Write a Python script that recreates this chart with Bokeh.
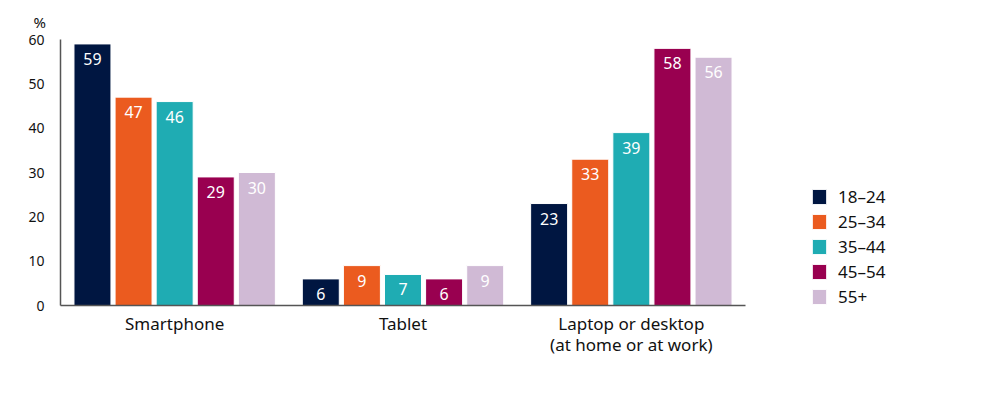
from bokeh.plotting import figure
from bokeh.models import (FactorRange, ColumnDataSource, FixedTicker, Legend, LegendItem,
                          Range1d, CategoricalAxis, Title)
from bokeh.transform import dodge
from bokeh.core.properties import value
from bokeh.embed import file_html
from bokeh.resources import INLINE

categories = ["Smartphone", "Tablet", "Laptop or desktop"]
label_line2 = [" ", "  ", "(at home or at work)"]
age_groups = ["18\u201324", "25\u201334", "35\u201344", "45\u201354", "55+"]
s18_24 = [59, 6, 23]
s25_34 = [47, 9, 33]
s35_44 = [46, 7, 39]
s45_54 = [29, 6, 58]
s55_plus = [30, 9, 56]
y_ticks = [0, 10, 20, 30, 40, 50, 60]
unit_label = "%"

series = [s18_24, s25_34, s35_44, s45_54, s55_plus]
colors = ["#001641", "#EB5B1F", "#1FACB3", "#990050", "#D0BAD5"]
offsets = [-0.36, -0.18, 0.0, 0.18, 0.36]
FONT = "Noto Sans"
TXT = "#111111"

p = figure(x_range=FactorRange(factors=categories, range_padding=0),
           y_range=Range1d(0, 60),
           frame_width=685, frame_height=266,
           min_border_left=60, min_border_top=39, min_border_right=248, min_border_bottom=85,
           output_backend="svg", toolbar_location=None, tools="")
p.extra_x_ranges = {"line2": FactorRange(factors=label_line2, range_padding=0)}

p.outline_line_color = None
p.xgrid.grid_line_color = None
p.ygrid.grid_line_color = None
p.background_fill_color = "white"
p.border_fill_color = "white"

p.yaxis.ticker = FixedTicker(ticks=y_ticks)
p.yaxis.major_tick_line_color = None
p.yaxis.minor_tick_line_color = None
p.yaxis.axis_line_color = "#555555"
p.yaxis.axis_line_width = 1.5
p.yaxis.major_label_text_font = FONT
p.yaxis.major_label_text_font_size = "14px"
p.yaxis.major_label_text_color = TXT
p.yaxis.major_label_standoff = 10

xa = p.xaxis[0]
xa.major_tick_line_color = None
xa.minor_tick_line_color = None
xa.axis_line_color = "#555555"
xa.axis_line_width = 1.5
xa.major_label_text_font = FONT
xa.major_label_text_font_size = "17px"
xa.major_label_text_color = TXT
xa.major_label_standoff = 0

xa2 = CategoricalAxis(x_range_name="line2", axis_line_color=None, major_tick_line_color=None,
                      minor_tick_line_color=None, major_label_standoff=-11,
                      major_label_text_font=FONT, major_label_text_font_size="17px",
                      major_label_text_color=TXT)
p.add_layout(xa2, "below")

items = []
for name, vals, col, off in zip(age_groups, series, colors, offsets):
    src = ColumnDataSource(dict(cat=categories, val=vals, lbl=[str(v) for v in vals]))
    r = p.vbar(x=dodge("cat", off, range=p.x_range), top="val", width=0.162, source=src,
               fill_color=col, line_color="white", line_width=1)
    p.text(x=dodge("cat", off, range=p.x_range), y="val", text="lbl", source=src,
           text_align="center", text_baseline="top", y_offset=9,
           text_color="white", text_font=value(FONT), text_font_size="16px")
    items.append(LegendItem(label=name, renderers=[r]))

legend = Legend(items=items, location=(65, -3), padding=0, margin=0,
                border_line_color=None, background_fill_alpha=0,
                glyph_width=18, glyph_height=19, spacing=2,
                label_standoff=10, label_text_font=FONT, label_text_font_size="17px",
                label_text_color=TXT)
p.add_layout(legend, "right")

p.add_layout(Title(text=unit_label, align="left", offset=-27, standoff=16,
                   text_font=FONT, text_font_size="15px", text_font_style="normal",
                   text_color=TXT), "above")

open("out.html", "w").write(file_html(p, INLINE))
